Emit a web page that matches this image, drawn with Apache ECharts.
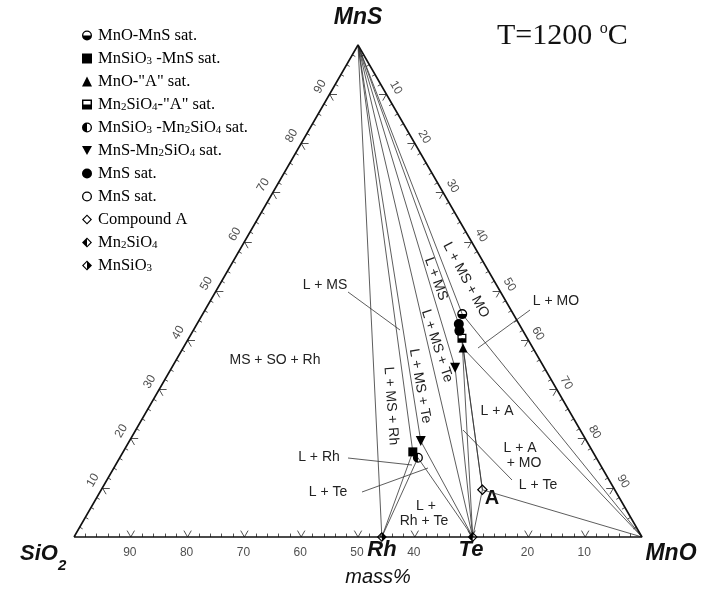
<!DOCTYPE html>
<html><head><meta charset="utf-8">
<script src="https://cdn.jsdelivr.net/npm/echarts@6/dist/echarts.min.js"></script>
<style>html,body{margin:0;padding:0;background:#fff}#c{width:709px;height:589px}</style>
</head><body><div id="c"></div>
<script>
// ---- DATA: compositions as [SiO2, MnO, MnS] mass% ----
const mnoMnsSat = [[9.0, 45.7, 45.3]];
const mnsio3MnsSat = [[31.7, 51.0, 17.3]];
const mnoASat = [[12.3, 49.3, 38.4]];
const mn2sio4ASat = [[11.5, 48.1, 40.4]];
const mnsio3Mn2sio4Sat = [[31.4, 52.5, 16.1]];
const mnsMn2sio4Sat = [[15.7, 49.9, 34.4], [29.2, 51.3, 19.5]];
const mnsSatFilled = [[10.6, 46.1, 43.3], [11.2, 46.9, 41.9]];
const mnsSatOpen = [];
const compoundA = [[23.3, 67.1, 9.6]];
const mn2sio4 = [[29.8, 70.2, 0]];
const mnsio3 = [[45.8, 54.2, 0]];

const cornerMnS = [0, 0, 100];
const cornerMnO = [0, 100, 0];
const cornerSiO2 = [100, 0, 0];

// tie lines (pairs of compositions)
const tieLines = [
  [cornerMnS, mnsio3[0]],
  [cornerMnS, mnsio3MnsSat[0]],
  [cornerMnS, mnsMn2sio4Sat[1]],
  [cornerMnS, mn2sio4[0]],
  [cornerMnS, mnsMn2sio4Sat[0]],
  [cornerMnS, mnsSatFilled[0]],
  [cornerMnS, mnoMnsSat[0]],
  [mnoMnsSat[0], cornerMnO],
  [mnoASat[0], cornerMnO],
  [compoundA[0], cornerMnO],
  [mnoASat[0], compoundA[0]],
  [mn2sio4ASat[0], compoundA[0]],
  [mn2sio4ASat[0], mn2sio4[0]],
  [mn2sio4[0], compoundA[0]],
  [mnsMn2sio4Sat[0], mn2sio4[0]],
  [mnsMn2sio4Sat[1], mn2sio4[0]],
  [mnsio3Mn2sio4Sat[0], mn2sio4[0]],
  [mnsio3Mn2sio4Sat[0], mnsio3[0]],
  [mnsio3MnsSat[0], mnsio3[0]]
];

// tick labels
const bottomTicks = [90, 80, 70, 60, 50, 40, 20, 10];   // SiO2 mass%
const leftTicks = [10, 20, 30, 40, 50, 60, 70, 80, 90];   // MnS mass%
const rightTicks = [10, 20, 30, 40, 50, 60, 70, 80, 90];  // MnO mass%

// ---- ternary -> cartesian (unit triangle) ----
const H = Math.sqrt(3) / 2;
function tern(p) {
  const s = p[0] + p[1] + p[2];
  const b = p[1] / s, c = p[2] / s;
  return [b + c / 2, c * H];
}

const FS = 'Liberation Sans, Arial, sans-serif';
const FT = 'Liberation Serif, Times New Roman, serif';

const P = {
  halfBottomCircle: 'path://M10 0A10 10 0 1 1 10 20A10 10 0 1 1 10 0Z M10 2.6A7.4 7.4 0 1 0 10 17.4A7.4 7.4 0 1 0 10 2.6Z M2.6 10A7.4 7.4 0 0 0 17.4 10Z',
  halfLeftCircle: 'path://M10 0A10 10 0 1 1 10 20A10 10 0 1 1 10 0Z M10 2.6A7.4 7.4 0 1 0 10 17.4A7.4 7.4 0 1 0 10 2.6Z M10 2.6A7.4 7.4 0 0 0 10 17.4Z',
  openCircle: 'path://M10 0A10 10 0 1 1 10 20A10 10 0 1 1 10 0Z M10 2.6A7.4 7.4 0 1 0 10 17.4A7.4 7.4 0 1 0 10 2.6Z',
  halfSquare: 'path://M0 0H20V20H0Z M2.8 2.8V17.2H17.2V2.8Z M2.8 10V17.2H17.2V10Z',
  invTriangle: 'path://M0 0H20L10 18Z',
  openDiamond: 'path://M10 0L20 10L10 20L0 10Z M10 3.2L3.2 10L10 16.8L16.8 10Z',
  leftDiamond: 'path://M10 0L20 10L10 20L0 10Z M10 3.2L3.2 10L10 16.8L16.8 10Z M10 3.2L3.2 10L10 16.8Z',
  rightDiamond: 'path://M10 0L20 10L10 20L0 10Z M10 3.2L3.2 10L10 16.8L16.8 10Z M10 3.2L10 16.8L16.8 10Z'
};

const seriesDefs = [
  {name: 'MnO-MnS sat.', data: mnoMnsSat, symbol: P.halfBottomCircle, size: 10},
  {name: 'MnSiO3 -MnS sat.', data: mnsio3MnsSat, symbol: 'rect', size: 9},
  {name: 'MnO-"A" sat.', data: mnoASat, symbol: 'triangle', size: 9},
  {name: 'Mn2SiO4-"A" sat.', data: mn2sio4ASat, symbol: P.halfSquare, size: 9},
  {name: 'MnSiO3 -Mn2SiO4 sat.', data: mnsio3Mn2sio4Sat, symbol: P.halfLeftCircle, size: 10},
  {name: 'MnS-Mn2SiO4 sat.', data: mnsMn2sio4Sat, symbol: P.invTriangle, size: 10},
  {name: 'MnS sat.', data: mnsSatFilled, symbol: 'circle', size: 10},
  {name: 'MnS sat. (open)', data: mnsSatOpen, symbol: P.openCircle, size: 10},
  {name: 'Compound A', data: compoundA, symbol: P.openDiamond, size: 11},
  {name: 'Mn2SiO4', data: mn2sio4, symbol: P.leftDiamond, size: 10},
  {name: 'MnSiO3', data: mnsio3, symbol: P.rightDiamond, size: 10}
];

const legendText = {
  'MnO-MnS sat.': 'MnO-MnS sat.',
  'MnSiO3 -MnS sat.': 'MnSiO{s|3} -MnS sat.',
  'MnO-"A" sat.': 'MnO-"A" sat.',
  'Mn2SiO4-"A" sat.': 'Mn{s|2}SiO{s|4}-"A" sat.',
  'MnSiO3 -Mn2SiO4 sat.': 'MnSiO{s|3} -Mn{s|2}SiO{s|4} sat.',
  'MnS-Mn2SiO4 sat.': 'MnS-Mn{s|2}SiO{s|4} sat.',
  'MnS sat.': 'MnS sat.',
  'MnS sat. (open)': 'MnS sat.',
  'Compound A': 'Compound A',
  'Mn2SiO4': 'Mn{s|2}SiO{s|4}',
  'MnSiO3': 'MnSiO{s|3}'
};

const outline = [cornerSiO2, cornerMnO, cornerMnS, cornerSiO2].map(tern);
const tickSegs = [];
const E = [[1,0,0],[0,1,0],[0,0,1]];
const edges = [[0,1,2],[1,2,0],[2,0,1]];
edges.forEach(([pi, qi, ri]) => {
  const Pv = E[pi], Qv = E[qi], Rv = E[ri];
  for (let k = 1; k < 50; k++) {
    const t = k / 50;
    const pt = [0,1,2].map(i => Pv[i] + t * (Qv[i] - Pv[i]));
    if (k % 5 === 0) {
      const d = 0.013;
      const a1 = [0,1,2].map(i => pt[i] + d * (Rv[i] - Pv[i]));
      const a2 = [0,1,2].map(i => pt[i] + d * (Rv[i] - Qv[i]));
      tickSegs.push({coords: [tern(pt), tern(a1)]});
      tickSegs.push({coords: [tern(pt), tern(a2)]});
    } else {
      const d = 0.007;
      const a = [0,1,2].map(i => pt[i] + d * (Rv[i] - (Pv[i] + Qv[i]) / 2));
      tickSegs.push({coords: [tern(pt), tern(a)]});
    }
  }
});

const series = [];
series.push({
  type: 'line', data: outline, symbol: 'none', silent: true, clip: false,
  lineStyle: {color: '#111', width: 1.6}, z: 3
});
series.push({
  type: 'lines', coordinateSystem: 'cartesian2d', data: tickSegs, silent: true,
  lineStyle: {color: '#222', width: 0.8, opacity: 1}, z: 3
});
series.push({
  type: 'lines', coordinateSystem: 'cartesian2d', silent: true,
  data: tieLines.map(s => ({coords: [tern(s[0]), tern(s[1])]})),
  lineStyle: {color: '#333', width: 0.8, opacity: 1}, z: 2
});
seriesDefs.forEach(d => {
  series.push({
    type: 'scatter', name: d.name, data: d.data.map(tern),
    symbol: d.symbol, symbolSize: d.size, z: 5,
    itemStyle: {color: '#000', borderWidth: 0, opacity: 1}
  });
});
function rotOffset(dx, dy, rotDeg) {
  const t = -rotDeg * Math.PI / 180;
  return [dx * Math.cos(t) + dy * Math.sin(t), -dx * Math.sin(t) + dy * Math.cos(t)];
}
function tickLabelSeries(vals, toComp, off, rotate) {
  return {
    type: 'scatter', silent: true, symbolSize: 0, z: 4,
    data: vals.map(v => ({value: tern(toComp(v)), name: String(v)})),
    label: {show: true, formatter: p => p.name, position: 'inside', offset: rotOffset(off[0], off[1], rotate), rotate: rotate,
      fontFamily: FS, fontSize: 12, color: '#222'}
  };
}
series.push(tickLabelSeries(bottomTicks, v => [v, 100 - v, 0], [-1, 16], 0));
series.push(tickLabelSeries(leftTicks, v => [100 - v, 0, v], [-9.5, -7.5], 60));
series.push(tickLabelSeries(rightTicks, v => [0, v, 100 - v], [9.5, -6.5], -60));

const RF = 14;
const txt = (x, y, text, opt) => Object.assign({
  type: 'text', x: x, y: y, silent: true,
  style: Object.assign({text: text, fontFamily: FS, fontSize: RF, fill: '#222', align: 'center', verticalAlign: 'middle'}, opt || {})
});
const rtxt = (x, y, text, deg) => ({
  type: 'text', x: x, y: y, rotation: -deg * Math.PI / 180, silent: true,
  style: {text: text, fontFamily: FS, fontSize: RF, fill: '#222', align: 'center', verticalAlign: 'middle'}
});
const seg = (x1, y1, x2, y2) => ({type: 'line', silent: true, shape: {x1, y1, x2, y2}, style: {stroke: '#333', lineWidth: 0.8}});

const bold = {fontSize: 23, fontWeight: 'bold', fontStyle: 'italic', fill: '#111'};
const graphic = [
  txt(358, 18, 'MnS', bold),
  {type: 'text', x: 20, y: 554, silent: true, style: {text: 'SiO{s|2}', fontFamily: FS, fontSize: 22, fontWeight: 'bold', fontStyle: 'italic', fill: '#111', verticalAlign: 'middle',
    rich: {s: {fontFamily: FS, fontSize: 15, fontWeight: 'bold', fontStyle: 'italic', fill: '#111', verticalAlign: 'bottom', lineHeight: 15, padding: [0,0,-8,0]}}}},
  txt(671, 554, 'MnO', bold),
  txt(382, 550, 'Rh', {fontSize: 22, fontWeight: 'bold', fontStyle: 'italic', fill: '#111'}),
  txt(471, 550, 'Te', {fontSize: 22, fontWeight: 'bold', fontStyle: 'italic', fill: '#111'}),
  txt(492, 498, 'A', {fontSize: 20, fontWeight: 'bold', fill: '#111'}),
  txt(378, 577, 'mass%', {fontSize: 20, fontStyle: 'italic', fill: '#111'}),
  {type: 'text', x: 497, y: 36, silent: true, style: {text: 'T=1200 {o|o}C', fontFamily: FT, fontSize: 30, fill: '#111', verticalAlign: 'middle',
    rich: {o: {fontFamily: FT, fontSize: 16, fill: '#111', verticalAlign: 'top', lineHeight: 16, padding: [0,0,12,0]}}}},
  txt(275, 360, 'MS + SO + Rh'),
  txt(325, 285, 'L + MS'),
  txt(319, 457, 'L + Rh'),
  txt(328, 492, 'L + Te'),
  txt(556, 301, 'L + MO'),
  txt(497, 411, 'L + A'),
  txt(520, 448, 'L + A'),
  txt(524, 463, '+ MO'),
  txt(538, 485, 'L + Te'),
  txt(426, 506, 'L +'),
  txt(424, 521, 'Rh + Te'),
  rtxt(391, 406, 'L + MS + Rh', 86),
  rtxt(437, 346, 'L + MS + Te', 72),
  rtxt(420, 386, 'L + MS + Te', 80),
  rtxt(436, 279, 'L + MS', 70),
  rtxt(466, 280, 'L + MS + MO', 62),
  seg(348, 292, 400, 330),
  seg(530, 310, 478, 348),
  seg(348, 458, 412, 465),
  seg(362, 492, 428, 468),
  seg(512, 480, 463, 430)
];

const chart = echarts.init(document.getElementById('c'), null, {renderer: 'canvas'});
chart.setOption({
  backgroundColor: '#fff',
  animation: false,
  grid: {left: 74, right: 709 - 642, top: 45, bottom: 589 - 537},
  xAxis: {type: 'value', min: 0, max: 1, show: false},
  yAxis: {type: 'value', min: 0, max: H, show: false},
  legend: {
    orient: 'vertical', left: 77, top: 22, itemWidth: 10, itemHeight: 10, itemGap: 6,
    data: seriesDefs.map(d => ({name: d.name, icon: d.symbol})),
    formatter: n => legendText[n],
    selectedMode: false,
    textStyle: {fontFamily: FT, fontSize: 16.5, color: '#000', lineHeight: 16, padding: [0,0,0,1],
      rich: {s: {fontFamily: FT, fontSize: 11, color: '#000', verticalAlign: 'bottom', lineHeight: 11}}}
  },
  series: series,
  graphic: graphic
});
</script></body></html>
